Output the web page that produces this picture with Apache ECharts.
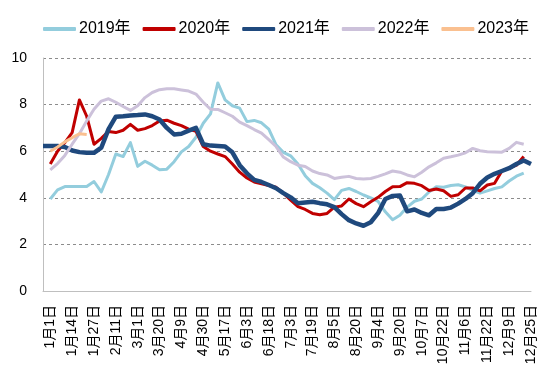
<!DOCTYPE html>
<html><head><meta charset="utf-8">
<script src="https://cdn.jsdelivr.net/npm/echarts@6/dist/echarts.min.js"></script>
<style>html,body{margin:0;padding:0;background:#fff;}#c{width:550px;height:379px;}</style>
</head><body><div id="c"></div>
<script>
var categories = ['12月28日',
 '1月1日','1月5日','1月9日','1月14日','1月18日','1月23日','1月27日','2月1日','2月6日',
 '2月11日','2月17日','2月23日','3月1日','3月7日','3月14日','3月20日','3月27日','4月2日',
 '4月9日','4月16日','4月23日','4月30日','5月6日','5月11日','5月17日','5月23日','5月28日',
 '6月3日','6月8日','6月13日','6月18日','6月23日','6月28日','7月3日','7月8日','7月14日',
 '7月19日','7月25日','7月30日','8月5日','8月10日','8月15日','8月20日','8月25日','8月30日',
 '9月4日','9月9日','9月15日','9月20日','9月26日','10月1日','10月7日','10月12日','10月17日',
 '10月22日','10月27日','11月1日','11月6日','11月11日','11月17日','11月22日','11月28日','12月3日',
 '12月9日','12月14日','12月20日','12月25日'];
var yTicks = [0, 2, 4, 6, 8, 10];
var seriesNames = ['2019年','2020年','2021年','2022年','2023年'];
var s2019 = [null,3.95,4.34,4.48,4.48,4.48,4.49,4.7,4.25,5.0,5.88,5.77,6.37,5.35,5.57,5.4,5.2,5.23,5.55,5.97,6.2,6.6,7.2,7.6,8.93,8.2,7.95,7.85,7.27,7.32,7.22,6.95,6.27,5.95,5.8,5.45,4.95,4.62,4.43,4.2,3.92,4.32,4.4,4.27,4.12,4.0,3.85,3.4,3.06,3.25,3.6,3.85,3.95,4.25,4.47,4.45,4.53,4.56,4.47,4.32,4.2,4.3,4.4,4.47,4.72,4.93,5.06,null];
var s2020 = [null,5.45,6.0,6.37,6.8,8.2,7.5,6.3,6.55,6.85,6.8,6.9,7.15,6.9,6.97,7.1,7.3,7.33,7.2,7.1,6.95,6.85,6.2,6.0,5.88,5.77,5.45,5.1,4.85,4.68,4.6,4.53,4.45,4.2,3.9,3.62,3.5,3.33,3.27,3.33,3.6,3.65,3.95,3.75,3.62,3.83,4.02,4.27,4.47,4.48,4.65,4.62,4.52,4.31,4.38,4.3,4.06,4.13,4.42,4.42,4.3,4.55,4.62,5.15,5.27,5.4,5.77,null];
var s2021 = [6.22,6.22,6.22,6.18,6.03,5.96,5.93,5.93,6.15,6.95,7.48,7.5,7.53,7.55,7.58,7.5,7.36,7.0,6.72,6.75,6.88,7.0,6.3,6.24,6.22,6.2,5.95,5.4,5.05,4.77,4.68,4.55,4.41,4.2,4.02,3.77,3.8,3.83,3.77,3.72,3.6,3.3,3.04,2.9,2.8,2.95,3.34,3.95,4.08,4.1,3.42,3.5,3.35,3.25,3.52,3.52,3.58,3.75,3.95,4.2,4.6,4.87,5.03,5.15,5.27,5.45,5.6,5.45];
var s2022 = [null,5.2,5.47,5.82,6.3,6.75,7.3,7.8,8.15,8.25,8.1,7.92,7.75,7.95,8.3,8.52,8.64,8.68,8.68,8.63,8.58,8.45,8.1,7.8,7.79,7.65,7.5,7.25,7.1,6.93,6.78,6.5,6.2,5.75,5.55,5.4,5.34,5.15,5.04,4.98,4.83,4.88,4.92,4.83,4.81,4.83,4.92,5.03,5.15,5.1,4.98,4.9,5.1,5.33,5.5,5.7,5.76,5.83,5.93,6.12,6.02,5.98,5.97,5.96,6.12,6.38,6.3,null];
var s2023 = [null,6.0,6.18,6.4,6.58,6.75,6.72,null,null,null,null,null,null,null,null,null,null,null,null,null,null,null,null,null,null,null,null,null,null,null,null,null,null,null,null,null,null,null,null,null,null,null,null,null,null,null,null,null,null,null,null,null,null,null,null,null,null,null,null,null,null,null,null,null,null,null,null,null];

var colors = ['#93CDDD','#C00000','#1F497D','#CCC1DA','#FAC090'];
var widths = [3, 3, 4.5, 3, 3];
var values = [s2019, s2020, s2021, s2022, s2023];
var font = '"Liberation Sans", Arial, "Noto Sans CJK SC", sans-serif';

var chart = echarts.init(document.getElementById('c'), null, {renderer: 'canvas'});
chart.setOption({
  animation: false,
  color: colors,
  legend: {
    top: 16, left: 38,
    icon: 'roundRect', itemWidth: 33, itemHeight: 4, itemGap: 12,
    textStyle: {fontFamily: font, fontSize: 16, color: '#000', padding: [0,0,0,-2]},
    data: seriesNames
  },
  grid: {left: 43, right: 19, top: 58, bottom: 88, containLabel: false},
  xAxis: {
    type: 'category', data: categories, boundaryGap: false,
    axisLine: {lineStyle: {color: '#BFBFBF', width: 1}},
    axisTick: {show: false},
    axisLabel: {
      rotate: 90, interval: function (i) { return i % 3 === 1; },
      fontFamily: font, fontSize: 14, color: '#000', margin: 14
    },
    splitLine: {show: false}
  },
  yAxis: {
    type: 'value', min: yTicks[0], max: yTicks[yTicks.length - 1], interval: 2,
    axisLine: {show: true, lineStyle: {color: '#BFBFBF', width: 1}},
    axisTick: {show: false},
    axisLabel: {fontFamily: font, fontSize: 14, color: '#000', margin: 16},
    splitLine: {lineStyle: {color: '#8C8C8C', type: [3, 3], width: 1}}
  },
  series: values.map(function (v, k) {
    return {
      name: seriesNames[k], type: 'line', data: v, symbol: 'none', smooth: false,
      connectNulls: false, z: 2 + k,
      lineStyle: {width: widths[k], color: colors[k], join: 'round'}
    };
  })
});
</script></body></html>
